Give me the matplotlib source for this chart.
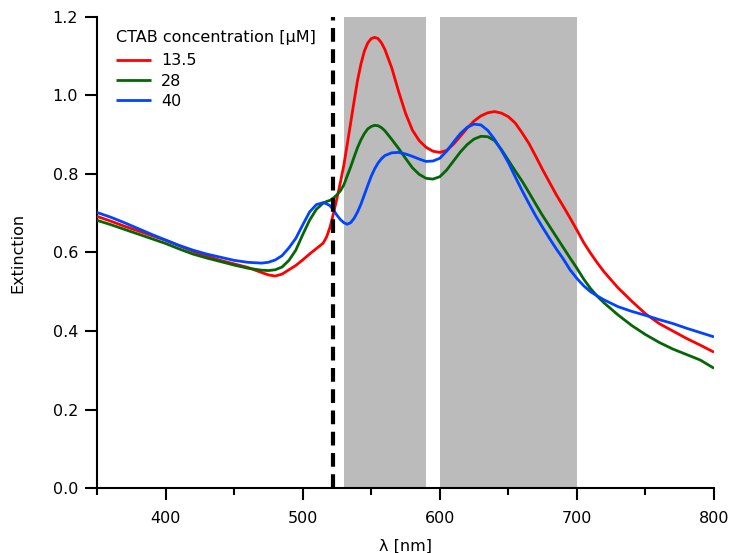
import matplotlib
matplotlib.use("Agg")
import matplotlib.pyplot as plt
from matplotlib.ticker import MultipleLocator, FormatStrFormatter

# Wavelength grid [nm]; finer steps across the plasmon band
wavelength = (list(range(350, 471, 10)) + list(range(475, 516, 5))
              + [517.5 + 2.5 * i for i in range(18)]
              + list(range(565, 721, 5)) + list(range(730, 801, 10)))

# Extinction spectra for each CTAB concentration
ext_13_5 = [0.692, 0.680, 0.667, 0.655, 0.643, 0.631, 0.617, 0.603, 0.591, 0.580,
            0.571, 0.562, 0.549,
            0.543, 0.540, 0.545, 0.556, 0.567, 0.581, 0.596, 0.610, 0.624,
            0.640, 0.665, 0.700, 0.738, 0.778, 0.822, 0.875, 0.930, 0.985,
            1.038, 1.080, 1.113, 1.134, 1.145, 1.148, 1.145, 1.134, 1.117,
            1.070, 1.010, 0.955, 0.912, 0.885, 0.868, 0.858, 0.855,
            0.860, 0.876, 0.896, 0.917, 0.935, 0.948, 0.956, 0.959,
            0.955, 0.946, 0.930, 0.905, 0.878, 0.845, 0.811, 0.779,
            0.747, 0.718, 0.688, 0.657, 0.625, 0.598, 0.573, 0.550,
            0.510, 0.476, 0.444, 0.419, 0.400, 0.381, 0.364, 0.346]

ext_28 = [0.682, 0.671, 0.659, 0.647, 0.635, 0.623, 0.609, 0.596, 0.586, 0.577,
          0.568, 0.560, 0.555,
          0.554, 0.556, 0.563, 0.580, 0.606, 0.645, 0.682, 0.710, 0.726,
          0.730, 0.733, 0.739, 0.747, 0.757, 0.772, 0.795, 0.818, 0.843,
          0.867, 0.887, 0.903, 0.915, 0.921, 0.924, 0.923, 0.918, 0.910,
          0.888, 0.865, 0.840, 0.816, 0.799, 0.789, 0.787, 0.793,
          0.810, 0.833, 0.856, 0.875, 0.889, 0.896, 0.895, 0.885,
          0.862, 0.835, 0.808, 0.782, 0.753, 0.723, 0.694, 0.667,
          0.640, 0.613, 0.586, 0.560, 0.532, 0.508, 0.488, 0.471,
          0.441, 0.414, 0.391, 0.371, 0.354, 0.340, 0.326, 0.305]

ext_40 = [0.702, 0.690, 0.676, 0.661, 0.646, 0.632, 0.618, 0.606, 0.596, 0.588,
          0.580, 0.575, 0.573,
          0.575, 0.581, 0.592, 0.612, 0.636, 0.670, 0.703, 0.722, 0.727,
          0.724, 0.719, 0.708, 0.695, 0.684, 0.676, 0.672, 0.676, 0.687,
          0.703, 0.723, 0.747, 0.771, 0.794, 0.813, 0.828, 0.839, 0.847,
          0.854, 0.855, 0.851, 0.845, 0.838, 0.832, 0.833, 0.840,
          0.858, 0.881, 0.903, 0.919, 0.927, 0.925, 0.911, 0.888,
          0.860, 0.829, 0.793, 0.758, 0.725, 0.693, 0.664, 0.636,
          0.609, 0.584, 0.556, 0.534, 0.515, 0.500, 0.489, 0.479,
          0.462, 0.450, 0.440, 0.429, 0.419, 0.407, 0.396, 0.385]

series_labels = ["13.5", "28", "40"]
series_colors = ["#ff0000", "#066606", "#0044ff"]
legend_title = "CTAB concentration [\u00b5M]"

# Highlighted wavelength bands and marker line [nm]
bands = [(530, 590), (600, 700)]
marker_wavelength = 522

plt.rcParams["font.family"] = ["DejaVu Sans"]
plt.rcParams["font.size"] = 11.5

fig = plt.figure(figsize=(7.33, 5.53), dpi=100)
ax = fig.add_axes([0.1323, 0.1175, 0.8418, 0.8518])

for lo, hi in bands:
    ax.axvspan(lo, hi, color="#bbbbbb", lw=0, zorder=0)

for y, lab, col in zip([ext_13_5, ext_28, ext_40], series_labels, series_colors):
    ax.plot(wavelength, y, color=col, lw=2.0, label=lab, zorder=3,
            solid_capstyle="butt", solid_joinstyle="round")

ax.axvline(marker_wavelength, color="black", lw=3.0,
           linestyle=(0, (3.3, 1.8)), zorder=4)

ax.set_xlim(350, 800)
ax.set_ylim(0, 1.2)

ax.xaxis.set_major_locator(MultipleLocator(100))
ax.xaxis.set_minor_locator(MultipleLocator(50))
ax.yaxis.set_major_locator(MultipleLocator(0.2))
ax.yaxis.set_major_formatter(FormatStrFormatter("%.1f"))

for side in ("top", "right"):
    ax.spines[side].set_visible(False)
for side in ("left", "bottom"):
    ax.spines[side].set_linewidth(1.5)

ax.tick_params(which="major", direction="out", length=8.5, width=1.5,
               labelsize=11.5)
ax.tick_params(axis="x", which="major", pad=8)
ax.tick_params(axis="y", which="major", pad=5)
ax.tick_params(which="minor", direction="out", length=5, width=1.5)

ax.set_xlabel("\u03bb [nm]", fontsize=11.5, labelpad=9)
ax.set_ylabel("Extinction", fontsize=11.5, labelpad=20)

leg = ax.legend(title=legend_title, loc="upper left",
                bbox_to_anchor=(0.031, 0.972), frameon=False,
                borderpad=0, borderaxespad=0, handlelength=2.2,
                handletextpad=0.6, labelspacing=0.33,
                fontsize=11.5, title_fontsize=11.5, alignment="left")
leg._legend_box.sep = 6

fig.savefig("out.png", dpi=100)
